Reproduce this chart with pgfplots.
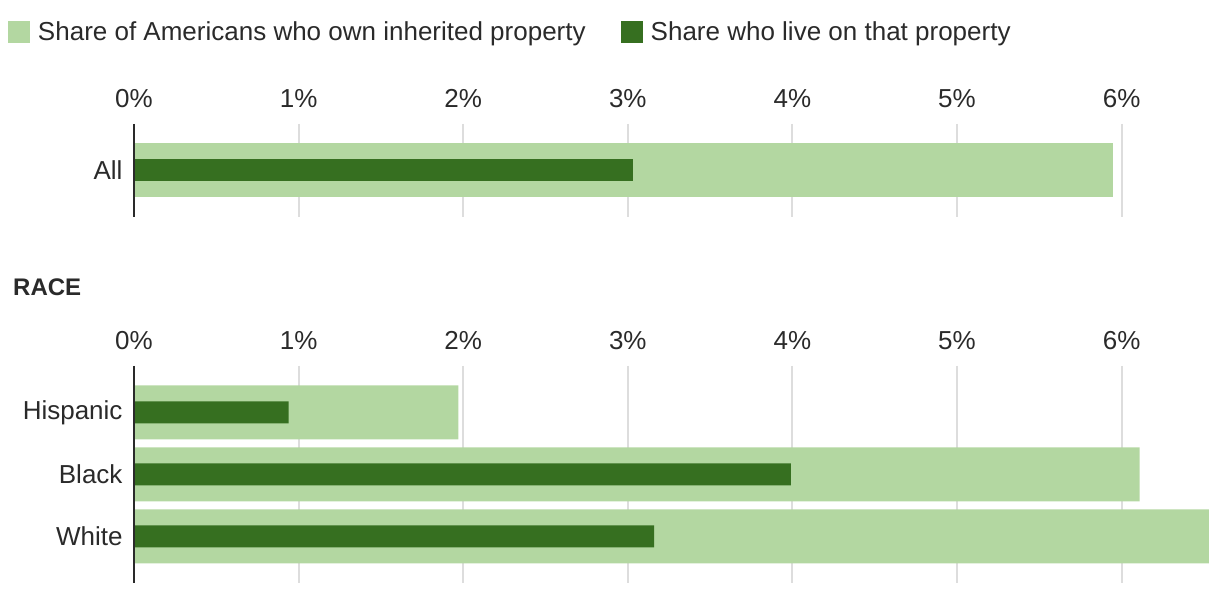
\documentclass[border=0pt]{standalone}
\usepackage{pgfplots}
\pgfplotsset{compat=1.18}
\usepackage{fontspec}
\setmainfont{Liberation Sans}
\definecolor{lightg}{HTML}{B3D7A1}
\definecolor{darkg}{HTML}{366F20}
\definecolor{txt}{HTML}{2A2A2A}
\definecolor{gridc}{HTML}{DDDDDD}
\pgfplotsset{
  panel/.style={
    scale only axis, width=1086pt,
    xmin=0, xmax=6.598,
    xbar,
    xtick={0,1,2,3,4,5,6},
    xticklabels={0\%,1\%,2\%,3\%,4\%,5\%,6\%},
    xticklabel pos=upper,
    xmajorgrids,
    grid style={gridc, line width=2pt},
    axis line style={draw=none},
    major tick length=0pt,
    tick label style={font=\fontsize{26}{30}\selectfont, text=txt},
    xticklabel style={yshift=12.5pt},
    yticklabel style={xshift=-8pt},
    ytick=data, y dir=reverse,
    ymin=-0.75,
    clip=false,
    legend image code/.code={\fill[##1] (0pt,-11pt) rectangle (22pt,11pt);},
  }
}
\begin{document}
\begin{tikzpicture}
\path[use as bounding box] (0,0) rectangle (1220pt,596pt);
\begin{axis}[panel, at={(134pt,472pt)}, anchor=north west, height=93pt, ymax=0.75,
  yticklabels={All},
  legend style={at={(0,1)}, anchor=north west, xshift=-126pt, yshift=104pt,
    draw=none, fill=none, inner sep=0pt, outer sep=0pt,
    font=\fontsize{26}{30}\selectfont, text=txt,
    /tikz/every odd column/.append style={column sep=6pt},
    /tikz/every even column/.append style={column sep=33pt}},
  legend columns=2, legend cell align=left]
\addplot[fill=lightg, draw=none, bar width=54pt, bar shift=0pt] coordinates {(5.95,0)};
\addplot[fill=darkg, draw=none, bar width=22pt, bar shift=0pt] coordinates {(3.03,0)};
\draw[txt, line width=2.5pt] (axis cs:0,-0.75) -- (axis cs:0,0.75);
\legend{Share of Americans who own inherited property, Share who live on that property}
\end{axis}
\node[anchor=base west, inner sep=0pt, text=txt, font=\bfseries\fontsize{24}{28}\selectfont] at (13pt,300pt) {RACE};
\begin{axis}[panel, at={(134pt,230pt)}, anchor=north west, height=217pt, ymax=2.75,
  yticklabels={Hispanic,Black,White}]
\addplot[fill=lightg, draw=none, bar width=54pt, bar shift=0pt] coordinates {(1.97,0) (6.11,1) (6.53,2)};
\addplot[fill=darkg, draw=none, bar width=22pt, bar shift=0pt] coordinates {(0.94,0) (3.99,1) (3.16,2)};
\draw[txt, line width=2.5pt] (axis cs:0,-0.75) -- (axis cs:0,2.75);
\end{axis}
\end{tikzpicture}
\end{document}
